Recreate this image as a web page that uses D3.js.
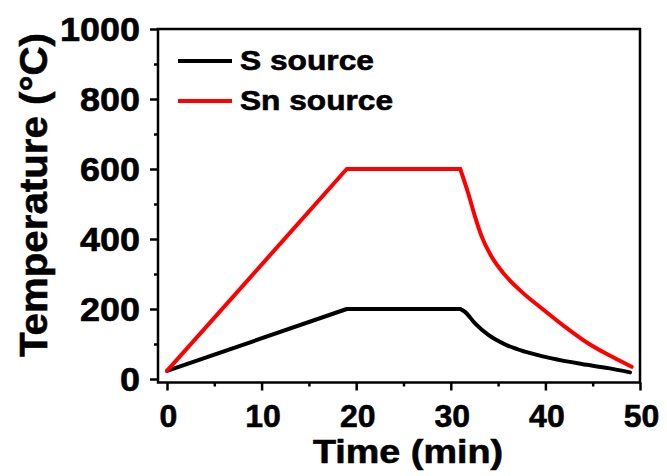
<!DOCTYPE html>
<html>
<head>
  <meta charset="UTF-8">
  <style>
    body { margin: 0; background: #fff; }
    text { font-family: "Liberation Sans", Arial, sans-serif; font-weight: bold; fill: #000; stroke: #000; stroke-width: 0.6px; }
  </style>
</head>
<body>
<svg id="chart"></svg>
<script src="https://d3js.org/d3.v7.min.js"></script>
<script>

// data (time in min, temperature in °C)
const timeS  = [0, 19, 31, 31.5, 32.56, 33.97, 35.73, 37.84, 40.67, 43.84, 46.65, 48.94];
const tempS  = [23, 200, 200, 192, 159, 126, 99, 78, 59, 43, 31, 19];
const timeSn = [0, 19, 31, 31.85, 32.56, 33.27, 34.32, 35.73, 37.5, 39.6, 42.07, 44.5, 46.65, 49.12];
const tempSn = [23, 600, 600, 530, 464, 407, 349, 297, 249, 202, 149, 102, 69, 35];

const seriesNames = ["S source", "Sn source"];
const seriesColors = ["#000000", "#ff0000"];

const xMajor = [0, 10, 20, 30, 40, 50];
const xMinor = [5, 15, 25, 35, 45];
const yMajor = [0, 200, 400, 600, 800, 1000];
const yMinor = [100, 300, 500, 700, 900];

let width = 667, height = 476;
let mLeft = 158, mRight = 640, mTop = 29, mBottom = 382.5;

let svg = d3.select("#chart")
    .attr("width", width)
    .attr("height", height);

let x = d3.scaleLinear().domain([-0.95, 50]).range([mLeft, mRight]);
let y = d3.scaleLinear().domain([-10, 1000]).range([mBottom, mTop]);

// ramp + hold are straight, the cooling part is smoothed
let straight = d3.line()
    .x(d => x(d[0]))
    .y(d => y(d[1]));
let smooth = d3.line()
    .x(d => x(d[0]))
    .y(d => y(d[1]))
    .curve(d3.curveMonotoneX);

let series = [
    d3.zip(timeS, tempS),
    d3.zip(timeSn, tempSn)
];

let curves = svg.append("g")
    .selectAll("g")
    .data(series)
    .enter()
    .append("g")
    .attr("fill", "none")
    .attr("stroke", (d, i) => seriesColors[i])
    .attr("stroke-width", 4)
    .attr("stroke-linejoin", "round")
    .attr("stroke-linecap", "round");

curves.append("path")
    .attr("d", d => straight(d.slice(0, 3)));
curves.append("path")
    .attr("d", d => smooth(d.slice(2)));

// frame
svg.append("rect")
    .attr("x", mLeft)
    .attr("y", mTop)
    .attr("width", mRight - mLeft)
    .attr("height", mBottom - mTop)
    .attr("fill", "none")
    .attr("stroke", "#000")
    .attr("stroke-width", 2.5);

// y axis
let yAxis = svg.append("g")
    .attr("transform", "translate(" + mLeft + ",0)")
    .call(d3.axisLeft(y).tickValues(yMajor).tickSize(8).tickPadding(10).tickFormat(d3.format("d")));
svg.append("g")
    .attr("transform", "translate(" + mLeft + ",0)")
    .call(d3.axisLeft(y).tickValues(yMinor).tickSize(4).tickFormat(""));

// x axis
let xAxis = svg.append("g")
    .attr("transform", "translate(0," + mBottom + ")")
    .call(d3.axisBottom(x).tickValues(xMajor).tickSize(8).tickFormat(d3.format("d")));
svg.append("g")
    .attr("transform", "translate(0," + mBottom + ")")
    .call(d3.axisBottom(x).tickValues(xMinor).tickSize(4).tickFormat(""));

svg.selectAll(".domain").remove();
svg.selectAll(".tick line")
    .attr("stroke", "#000")
    .attr("stroke-width", 2.5);

yAxis.selectAll("text")
    .attr("font-size", 33)
    .attr("font-family", null)
    .attr("fill", null)
    .attr("dy", "0.36em")
    .attr("textLength", d => String(d).length * 20)
    .attr("lengthAdjust", "spacingAndGlyphs");

xAxis.selectAll("text")
    .attr("font-size", 32)
    .attr("font-family", null)
    .attr("fill", null)
    .attr("y", 0)
    .attr("dy", 0)
    .attr("transform", "translate(1,44.5)");

// axis titles
svg.append("text")
    .attr("x", 408)
    .attr("y", 463)
    .attr("text-anchor", "middle")
    .attr("font-size", 33)
    .attr("textLength", 190)
    .attr("lengthAdjust", "spacingAndGlyphs")
    .text("Time (min)");

svg.append("text")
    .attr("transform", "translate(47,195) rotate(-90)")
    .attr("text-anchor", "middle")
    .attr("font-size", 39)
    .attr("textLength", 324)
    .attr("lengthAdjust", "spacingAndGlyphs")
    .text("Temperature (°C)");

// legend
let legend = svg.append("g")
    .selectAll("g")
    .data(seriesNames)
    .enter()
    .append("g")
    .attr("transform", (d, i) => "translate(178," + (61 + i * 40) + ")");

legend.append("line")
    .attr("x1", 0)
    .attr("x2", 54)
    .attr("stroke", (d, i) => seriesColors[i])
    .attr("stroke-width", 4);

legend.append("text")
    .attr("x", 62)
    .attr("y", 9)
    .attr("font-size", 28)
    .attr("textLength", (d, i) => i == 0 ? 134 : 153)
    .attr("lengthAdjust", "spacingAndGlyphs")
    .text(d => d);

</script>
</body>
</html>
